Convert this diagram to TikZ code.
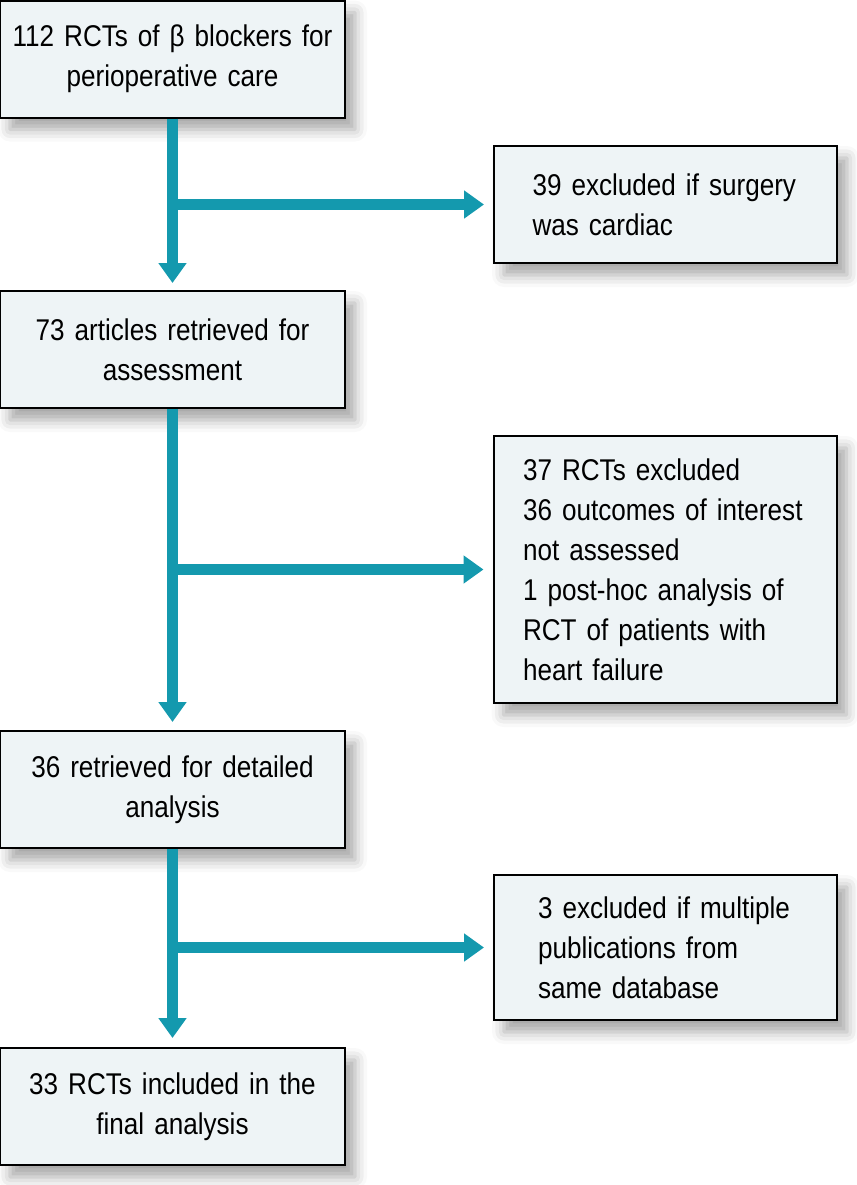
\documentclass[tikz,border=0pt]{standalone}
\usepackage{fontspec}
\setmainfont{Liberation Sans}[FakeStretch=0.87]
\usepackage{tikz}
\usetikzlibrary{arrows.meta,shadows.blur}
\hyphenpenalty=10000

\definecolor{boxfill}{RGB}{238,244,246}
\definecolor{arrowteal}{RGB}{20,153,174}

\tikzset{
  stagebox/.style={draw=black, line width=1pt, fill=boxfill, rectangle,
    minimum width=172.5pt, minimum height=58.5pt, align=center, inner xsep=0pt,
    font=\fontsize{15pt}{20pt}\selectfont,
    blur shadow={shadow xshift=5pt, shadow yshift=-6pt, shadow blur radius=6pt, shadow opacity=35}},
  exclbox/.style={stagebox, minimum width=171.5pt, align=left},
  flowarrow/.style={draw=arrowteal, line width=5.5pt, -{Triangle[width=13.5pt, length=10pt]}}
}

\begin{document}
\begin{tikzpicture}[x=0.5pt, y=-0.5pt]
            \useasboundingbox (0,0) rectangle (857,1185);
            % main column
            \node[stagebox, text width=166pt] (Rct) at (172.5,59) {112 RCTs of β blockers for\\perioperative care};
            \node[stagebox, text width=166pt] (Art) at (172.5,349.5) {73 articles retrieved for\\assessment};
            \node[stagebox, text width=166pt] (Det) at (172.5,789.5) {36 retrieved for detailed\\analysis};
            \node[stagebox, text width=166pt] (Fin) at (172.5,1106.5) {33 RCTs included in the\\final analysis};
            % exclusions
            \node[exclbox, text width=133pt] (ExCard) at (665.5,204.5) {39 excluded if surgery\\was cardiac};
            \node[exclbox, text width=142pt, minimum height=133.5pt] (ExRct) at (665,569.5) {37 RCTs excluded\\36 outcomes of interest\\not assessed\\1 post-hoc analysis of\\RCT of patients with\\heart failure};
            \node[exclbox, text width=127.5pt, minimum height=72.5pt] (ExPub) at (665.5,947.5) {3 excluded if multiple\\publications from\\same database};
            % arrows
            \draw[flowarrow] (Rct.south) -- ([yshift=3.5pt]Art.north);
            \draw[flowarrow] (Art.south) -- ([yshift=4pt]Det.north);
            \draw[flowarrow] (Det.south) -- ([yshift=4.5pt]Fin.north);
            \draw[flowarrow] (Rct.south |- ExCard.west) -- ([xshift=-4.5pt]ExCard.west);
            \draw[flowarrow] (Art.south |- ExRct.west) -- ([xshift=-4.5pt]ExRct.west);
            \draw[flowarrow] (Det.south |- ExPub.west) -- ([xshift=-4.5pt]ExPub.west);
        \end{tikzpicture}
\end{document}
